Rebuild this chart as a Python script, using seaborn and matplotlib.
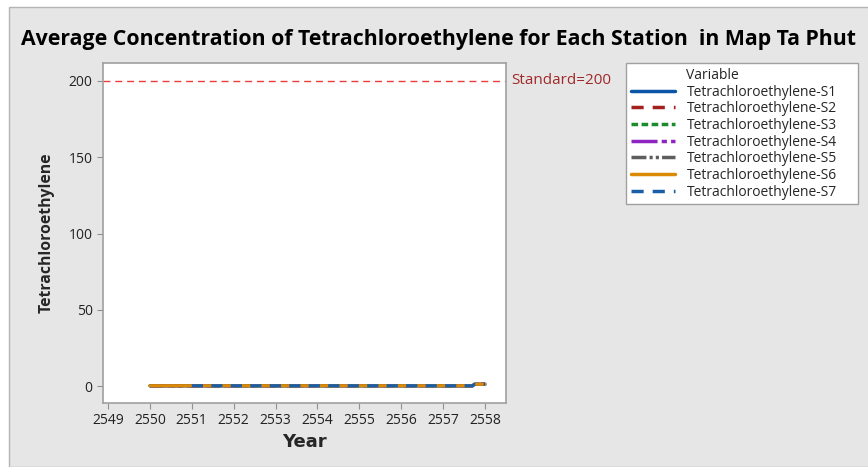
import pandas as pd
import numpy as np
import matplotlib.pyplot as plt
import seaborn as sns
from matplotlib.patches import Rectangle

sns.set_style('white')
plt.rcParams['font.family'] = ['Open Sans', 'DejaVu Sans']

# data (values near zero)
years_s6 = [2550, 2551, 2552, 2553, 2554, 2555, 2556, 2557, 2557.7, 2557.75, 2558]
values_s6 = [0.2, 0.2, 0.2, 0.2, 0.2, 0.2, 0.2, 0.2, 0.2, 1.2, 1.2]
years_s7 = [2551, 2552, 2553, 2554, 2555, 2556, 2557, 2557.7, 2557.75, 2558]
values_s7 = [0.2, 0.2, 0.2, 0.2, 0.2, 0.2, 0.2, 0.2, 1.2, 1.2]
stations = ['S1', 'S2', 'S3', 'S4', 'S5', 'S6', 'S7']
standard = 200
x_ticks = list(range(2549, 2559))
y_ticks = [0, 50, 100, 150, 200]

rows = []
for s in stations:
    if s == 'S7':
        xs, vs = years_s7, values_s7
    else:
        xs, vs = years_s6, values_s6
    for x, v in zip(xs, vs):
        rows.append({'Year': x, 'Value': v, 'Variable': 'Tetrachloroethylene-' + s})
df = pd.DataFrame(rows)

names = ['Tetrachloroethylene-' + s for s in stations]
colors = ['#0a55a5', '#a3201e', '#1e8c2e', '#8e24c2', '#5e5e5e', '#db8a06', '#1a5ea8']
dash_list = ['', (3.5, 2.6), (1.9, 1.0), (7.5, 1.2, 1.5, 1.2), (4.3, 0.9, 0.9, 0.9, 0.9, 0.9), '', (3.5, 2.6)]
palette = dict(zip(names, colors))
dashes = dict(zip(names, dash_list))

fig = plt.figure(figsize=(8.68, 4.67), dpi=100)
fig.patch.set_facecolor('white')
fig.patches.append(Rectangle((9 / 868, 0), 1, 1 - 7 / 467, transform=fig.transFigure,
                             facecolor='#e6e6e6', edgecolor='#b4b4b4', linewidth=1, zorder=-10))

ax = fig.add_axes([103 / 868, 1 - 403 / 467, 403 / 868, 340 / 467])
sns.lineplot(data=df, x='Year', y='Value', hue='Variable', style='Variable',
             palette=palette, dashes=dashes, hue_order=names, style_order=names,
             linewidth=2.3, ax=ax, estimator=None, sort=False)

ax.axhline(standard, color='#ee3b3b', linestyle=(0, (5, 3.5)), linewidth=1, zorder=1)
ax.text(1.012, standard, 'Standard=' + str(standard), transform=ax.get_yaxis_transform(),
        color='#a02828', fontsize=11, va='center', ha='left')

ax.set_xlim(2548.88, 2558.5)
ax.set_ylim(-11.1, 211.8)
ax.set_xticks(x_ticks)
ax.set_yticks(y_ticks)
ax.tick_params(axis='both', length=4, color='#909090', labelsize=10, labelcolor='#222222', direction='out')
ax.tick_params(left=True, bottom=True)
for sp in ax.spines.values():
    sp.set_color('#a0a0a0')
    sp.set_linewidth(1.2)

ax.set_xlabel('Year', fontsize=13, fontweight='bold', family='DejaVu Sans', labelpad=3)
ax.set_ylabel('Tetrachloroethylene', fontsize=11.3, fontweight='bold', labelpad=10)

handles, labels = ax.get_legend_handles_labels()
ax.get_legend().remove()
leg = ax.legend(handles, labels, title='Variable', loc='upper left',
                bbox_to_anchor=(626 / 868, 1 - 201 / 467, 232 / 868, 138 / 467),
                bbox_transform=fig.transFigure, mode='expand',
                borderaxespad=0, fancybox=False, edgecolor='#a0a0a0', framealpha=1,
                fontsize=10, title_fontsize=10, labelspacing=0.12, handlelength=3.2,
                handletextpad=0.8, borderpad=0.35)
leg._legend_box.align = 'left'
leg.get_title().set_position((55, 0))
for line in leg.get_lines():
    line.set_linewidth(2.5)

fig.text(439 / 868, 1 - 40 / 467, 'Average Concentration of Tetrachloroethylene for Each Station  in Map Ta Phut',
         ha='center', va='center', fontsize=15.3, fontweight='bold', color='black')

fig.savefig('out.png', dpi=100)
